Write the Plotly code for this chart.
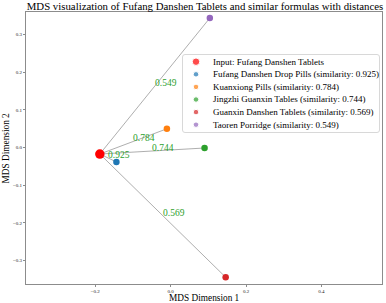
import plotly.graph_objects as go

input_name = "Input: Fufang Danshen Tablets"
input_xy = (-0.188, -0.017)

names = ["Fufang Danshen Drop Pills", "Kuanxiong Pills", "Jingzhi Guanxin Tables",
         "Guanxin Danshen Tablets", "Taoren Porridge"]
similarity = [0.925, 0.784, 0.744, 0.569, 0.549]
x_vals = [-0.144, -0.010, 0.090, 0.146, 0.104]
y_vals = [-0.038, 0.050, -0.001, -0.344, 0.344]
colors = ["#1f77b4", "#ff7f0e", "#2ca02c", "#d62728", "#9467bd"]
input_color = "#ff0000"

x_ticks = [-0.2, 0.0, 0.2, 0.4]
y_ticks = [-0.3, -0.2, -0.1, 0.0, 0.1, 0.2, 0.3]

FONT = "Liberation Serif, Times New Roman, serif"

# plot area in pixels
W, H = 386, 303
L, R, T, B = 26, 382, 12, 284


def px_x(p):
    return (p - L) / (R - L)


def px_y(p):
    return (B - p) / (B - T)


fig = go.Figure()

# lines from input to each formula
for xv, yv in zip(x_vals, y_vals):
    fig.add_trace(go.Scatter(x=[input_xy[0], xv], y=[input_xy[1], yv], mode="lines",
                             line=dict(color="rgba(140,140,140,0.7)", width=1),
                             showlegend=False, hoverinfo="skip"))

fig.add_trace(go.Scatter(x=[input_xy[0]], y=[input_xy[1]], mode="markers",
                         marker=dict(color=input_color, size=9.5), showlegend=False))
for xv, yv, c in zip(x_vals, y_vals, colors):
    fig.add_trace(go.Scatter(x=[xv], y=[yv], mode="markers",
                             marker=dict(color=c, size=6.5), showlegend=False))

for s, xv, yv in zip(similarity, x_vals, y_vals):
    fig.add_annotation(x=(input_xy[0] + xv) / 2, y=(input_xy[1] + yv) / 2,
                       text=f"{s:.3f}", showarrow=False, xanchor="left", yanchor="middle",
                       xshift=-1, yshift=3, borderpad=0,
                       font=dict(family=FONT, size=9.5, color="#2ca02c"))

# ---- custom legend (compact rows like the reference) ----
leg_labels = [input_name] + [f"{n} (similarity: {s:.3f})" for n, s in zip(names, similarity)]
leg_colors = [input_color] + colors
leg_sizes = [7.5] + [5.5] * len(colors)
box_l, box_r, box_t, box_b = 182.5, 379.5, 54.5, 132.5
row0, row_gap = 61.7, 12.6
mark_x, text_x = 196, 211.5

rad = 2.5
path = (f"M {px_x(box_l + rad)},{px_y(box_t)} L {px_x(box_r - rad)},{px_y(box_t)} "
        f"Q {px_x(box_r)},{px_y(box_t)} {px_x(box_r)},{px_y(box_t + rad)} "
        f"L {px_x(box_r)},{px_y(box_b - rad)} Q {px_x(box_r)},{px_y(box_b)} {px_x(box_r - rad)},{px_y(box_b)} "
        f"L {px_x(box_l + rad)},{px_y(box_b)} Q {px_x(box_l)},{px_y(box_b)} {px_x(box_l)},{px_y(box_b - rad)} "
        f"L {px_x(box_l)},{px_y(box_t + rad)} Q {px_x(box_l)},{px_y(box_t)} {px_x(box_l + rad)},{px_y(box_t)} Z")
fig.add_shape(type="path", path=path, xref="paper", yref="paper",
              fillcolor="white", line=dict(color="#d8d8d8", width=1), layer="below")

rows_y = [px_y(row0 + i * row_gap) for i in range(len(leg_labels))]
fig.add_trace(go.Scatter(x=[px_x(mark_x)] * len(leg_labels), y=rows_y, mode="markers",
                         marker=dict(color=leg_colors, size=leg_sizes),
                         xaxis="x2", yaxis="y2", showlegend=False, hoverinfo="skip"))
for lab, ry in zip(leg_labels, rows_y):
    fig.add_annotation(x=px_x(text_x), y=ry, xref="paper", yref="paper", text=lab,
                       showarrow=False, xanchor="left", yanchor="middle", borderpad=0,
                       font=dict(family=FONT, size=9, color="black"))

# axis titles
fig.add_annotation(x=px_x(204.5), y=px_y(298), xref="paper", yref="paper", text="MDS Dimension 1",
                   showarrow=False, xanchor="center", yanchor="middle", borderpad=0,
                   font=dict(family=FONT, size=9.3, color="black"))
fig.add_annotation(x=px_x(5.5), y=0.5, xref="paper", yref="paper", text="MDS Dimension 2",
                   showarrow=False, xanchor="center", yanchor="middle", textangle=-90, borderpad=0,
                   font=dict(family=FONT, size=9.3, color="black"))

axis_common = dict(showline=True, mirror=True, linecolor="#8c8c8c", linewidth=1,
                   showgrid=False, zeroline=False, ticks="outside", ticklen=2,
                   tickcolor="#8c8c8c", automargin=False,
                   tickfont=dict(family=FONT, size=5, color="#222"))

fig.update_layout(
    width=W, height=H,
    margin=dict(l=L, r=W - R, t=T, b=H - B, autoexpand=False),
    paper_bgcolor="white", plot_bgcolor="white",
    font=dict(family=FONT, color="black"),
    title=dict(text="MDS visualization of Fufang Danshen Tablets and similar formulas with distances",
               x=205 / W, xanchor="center", y=1 - 6 / H, yanchor="middle",
               font=dict(family=FONT, size=10.8, color="black")),
    xaxis=dict(range=[-0.384, 0.561], tickvals=x_ticks, tickformat=".1f", **axis_common),
    yaxis=dict(range=[-0.362, 0.360], tickvals=y_ticks, tickformat=".1f", **axis_common),
    xaxis2=dict(overlaying="x", range=[0, 1], visible=False, domain=[0, 1]),
    yaxis2=dict(overlaying="y", range=[0, 1], visible=False, domain=[0, 1]),
    showlegend=False,
)

fig.write_html("out.html", config={"displayModeBar": False},
               post_script="document.body.style.margin='0';document.body.style.overflow='hidden';")
